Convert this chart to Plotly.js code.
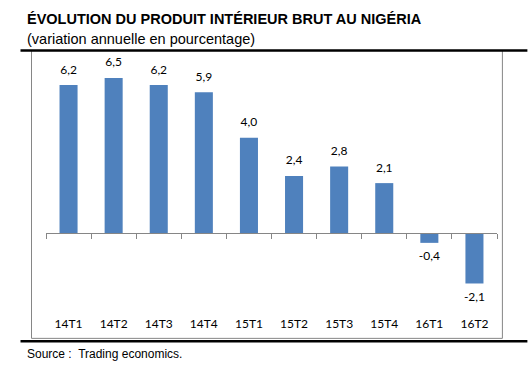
<!DOCTYPE html>
<html><head><meta charset="utf-8">
<script src="https://cdn.plot.ly/plotly-3.0.1.min.js"></script>
<style>html,body{margin:0;padding:0;background:#fff}#chart{width:532px;height:378px}</style>
</head><body><div id="chart"></div>
<script>
const categories = ['14T1','14T2','14T3','14T4','15T1','15T2','15T3','15T4','16T1','16T2'];
const gdpGrowth = [6.2, 6.5, 6.2, 5.9, 4.0, 2.4, 2.8, 2.1, -0.4, -2.1];
const titleText = 'ÉVOLUTION DU PRODUIT INTÉRIEUR BRUT AU NIGÉRIA';
const subtitleText = '(variation annuelle en pourcentage)';
const sourceText = 'Source :  Trading economics.';

const W = 532, H = 378;
const L = 45.5, R = 496.6, T = 65.5, B = 305.5;
const pw = R - L, ph = B - T;
const px = x => (x - L) / pw;
const py = y => (B - y) / ph;
const yMin = -3, yMax = 7;

const labels = gdpGrowth.map(v => v.toFixed(1).replace('.', ','));
const labelPos = gdpGrowth.map(v => v >= 0 ? 'top center' : 'bottom center');
const font = 'Lato, "Open Sans", sans-serif';

const traces = [
  {type:'bar', x:categories, y:gdpGrowth, marker:{color:'#4F81BD'}, hoverinfo:'skip'},
  {type:'scatter', mode:'markers+text', x:categories, y:gdpGrowth, text:labels, textposition:labelPos,
   marker:{size:12, color:'rgba(0,0,0,0)'}, cliponaxis:false,
   textfont:{family:font, size:12, color:'#000'}, hoverinfo:'skip'},
  {type:'scatter', x:[], y:[], xaxis:'x2', yaxis:'y', showlegend:false, hoverinfo:'skip'}
];

const layout = {
  width:W, height:H, paper_bgcolor:'#fff', plot_bgcolor:'rgba(0,0,0,0)',
  margin:{l:L, r:W-R, t:T, b:H-B, pad:0},
  showlegend:false, bargap:0.6, separators:', ',
  title:{text:titleText, x:27/W, xanchor:'left', xref:'container', y:1-19/H, yanchor:'middle', yref:'container',
         font:{family:'"Liberation Sans", Arial, sans-serif', size:14.5, color:'#000', weight:'bold'}},
  xaxis:{type:'category', range:[-0.5, 9.5], showline:false, showgrid:false, zeroline:false, ticks:'',
         tickfont:{family:font, size:12, color:'#000'}, ticklabelstandoff:10, fixedrange:true},
  xaxis2:{type:'linear', overlaying:'x', anchor:'free', position:(0 - yMin)/(yMax - yMin), range:[-0.5, 9.5],
          showline:true, linecolor:'#868686', linewidth:1, ticks:'outside', ticklen:5, tickcolor:'#868686', tickwidth:1,
          tickvals:[-0.5,0.5,1.5,2.5,3.5,4.5,5.5,6.5,7.5,8.5,9.5], showticklabels:false, showgrid:false, zeroline:false},
  yaxis:{range:[yMin, yMax], showgrid:false, zeroline:false, showline:false, ticks:'', showticklabels:false, fixedrange:true},
  annotations:[
    {text:subtitleText, xref:'paper', yref:'paper', x:px(24), y:py(38), xanchor:'left', yanchor:'middle', showarrow:false,
     font:{family:'"Liberation Sans", Arial, sans-serif', size:14.5, color:'#000'}},
    {text:sourceText, xref:'paper', yref:'paper', x:px(24), y:py(355), xanchor:'left', yanchor:'middle', showarrow:false,
     font:{family:'"Liberation Sans", Arial, sans-serif', size:12, color:'#000'}}
  ],
  shapes:[
    {type:'rect', xref:'paper', yref:'paper', x0:px(31), x1:px(502), y0:py(339), y1:py(50), line:{color:'#868686', width:1}, layer:'below'},
    {type:'line', xref:'paper', yref:'paper', x0:px(20), x1:px(527), y0:py(50), y1:py(50), line:{color:'#000', width:2.5}},
    {type:'line', xref:'paper', yref:'paper', x0:px(20), x1:px(527), y0:py(342), y1:py(342), line:{color:'#000', width:2.5}}
  ]
};
Plotly.newPlot('chart', traces, layout, {displayModeBar:false, staticPlot:true});
</script></body></html>
